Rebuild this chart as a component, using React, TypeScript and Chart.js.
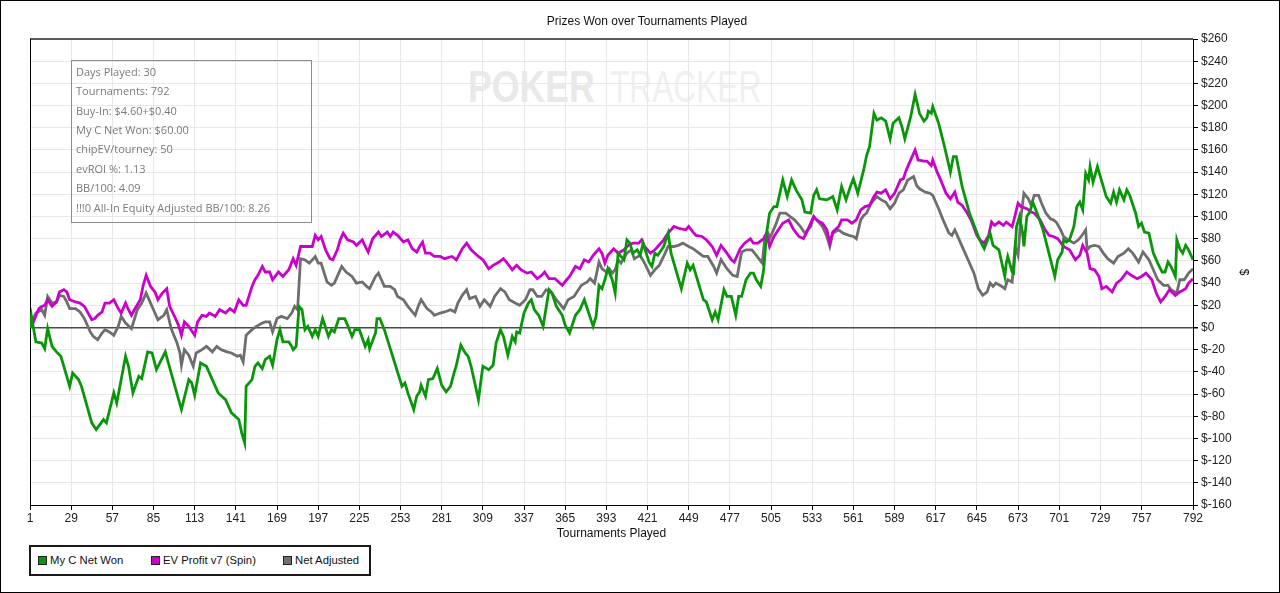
import React, { useEffect, useRef } from 'react';
import { Chart, registerables } from 'chart.js';

Chart.register(...registerables);

// ---------- data ----------
const chartTitle = 'Prizes Won over Tournaments Played';
const xAxisTitle = 'Tournaments Played';
const yAxisTitle = '$';
const xTickValues = [1, 29, 57, 85, 113, 141, 169, 197, 225, 253, 281, 309, 337, 365, 393, 421, 449, 477, 505, 533, 561, 589, 617, 645, 673, 701, 729, 757, 792];
const yMin = -160;
const yMax = 260;
const yStep = 20;

const seriesNames = ['My C Net Won', 'EV Profit v7 (Spin)', 'Net Adjusted'];
const seriesColors = ['#0a960a', '#cc00cc', '#6e6e6e'];

const infoLines = [
  'Days Played: 30',
  'Tournaments: 792',
  'Buy-In: $4.60+$0.40',
  'My C Net Won: $60.00',
  'chipEV/tourney: 50',
  'evROI %: 1.13',
  'BB/100: 4.09',
  '!!!0 All-In Equity Adjusted BB/100: 8.26',
];

// [tournament, $]
const netWon: [number, number][] = [
  [1, 0], [2, 10], [5, -13], [9, -14], [11, -19], [13, -1], [16, -17], [19, -22], [22, -26], [28, -53], [30, -41], [34, -47], [36, -53], [43, -86], [46, -92], [51, -83], [53, -86], [58, -59], [60, -68], [66, -26], [68, -35], [71, -59], [75, -44], [77, -46], [81, -22], [84, -23], [87, -38], [93, -22], [104, -74], [109, -47], [111, -50], [113, -61], [117, -32], [121, -35], [125, -47], [129, -59], [134, -65], [138, -77], [143, -83], [145, -95], [147, -104], [148, -53], [152, -47], [154, -35], [156, -32], [159, -37], [161, -29], [164, -26], [166, -34], [169, -11], [171, -2], [173, -13], [177, -13], [179, -17], [180, -20], [182, -17], [184, 19], [186, 16], [188, -2], [190, 1], [193, -8], [195, -2], [197, -8], [200, 8], [204, -8], [206, -2], [208, -4], [211, 8], [215, 8], [217, 2], [220, -8], [222, -2], [225, -2], [229, -17], [231, -11], [232, -19], [236, -5], [237, 8], [239, 8], [242, -2], [254, -53], [256, -50], [258, -59], [262, -74], [264, -62], [266, -58], [267, -52], [270, -62], [272, -47], [275, -46], [278, -37], [281, -52], [284, -58], [287, -53], [289, -43], [291, -34], [294, -16], [297, -23], [299, -26], [301, -35], [306, -65], [309, -35], [313, -38], [316, -34], [318, -14], [321, -2], [323, -8], [326, -25], [329, -8], [331, -13], [332, -4], [334, -5], [337, 13], [340, 22], [342, 25], [344, 16], [347, 11], [350, 1], [354, 34], [356, 31], [359, 19], [363, 11], [365, 2], [368, -5], [372, 11], [375, 16], [376, 19], [378, 25], [381, 13], [384, 1], [386, 10], [388, 38], [390, 35], [392, 43], [394, 53], [397, 43], [399, 31], [401, 67], [405, 61], [407, 79], [409, 76], [411, 67], [414, 70], [416, 65], [418, 76], [422, 59], [424, 55], [426, 67], [428, 65], [432, 73], [435, 85], [437, 67], [444, 35], [448, 58], [450, 52], [452, 56], [459, 25], [461, 23], [465, 7], [467, 14], [469, 7], [473, 34], [475, 28], [478, 28], [481, 11], [483, 28], [485, 28], [488, 43], [491, 49], [493, 49], [495, 43], [498, 37], [500, 52], [502, 85], [504, 103], [507, 109], [509, 109], [513, 133], [516, 118], [519, 133], [522, 124], [526, 115], [528, 104], [532, 103], [534, 119], [536, 124], [538, 116], [543, 115], [547, 118], [550, 106], [553, 127], [556, 115], [559, 127], [561, 134], [564, 121], [568, 142], [570, 155], [572, 163], [575, 193], [577, 187], [580, 189], [583, 186], [586, 170], [588, 184], [592, 189], [594, 181], [596, 170], [600, 190], [603, 210], [606, 193], [609, 186], [611, 189], [612, 195], [614, 193], [615, 199], [619, 184], [623, 163], [627, 140], [629, 154], [631, 154], [635, 127], [640, 103], [646, 82], [648, 76], [650, 71], [654, 85], [656, 74], [660, 70], [664, 46], [665, 58], [666, 64], [669, 50], [670, 49], [672, 91], [674, 100], [676, 86], [677, 73], [679, 100], [681, 104], [683, 113], [686, 103], [690, 88], [694, 67], [698, 46], [700, 61], [703, 68], [704, 79], [706, 77], [708, 79], [711, 91], [713, 109], [715, 113], [717, 106], [719, 139], [721, 133], [722, 145], [724, 131], [727, 145], [729, 136], [731, 127], [733, 118], [736, 112], [738, 122], [740, 113], [742, 124], [745, 115], [747, 124], [749, 119], [753, 103], [755, 91], [757, 94], [759, 86], [762, 85], [765, 67], [768, 58], [771, 50], [773, 50], [775, 59], [777, 55], [780, 46], [781, 79], [783, 71], [785, 67], [787, 74], [789, 70], [792, 61],
];

const evProfit: [number, number][] = [
  [1, 0], [3, 4], [7, 17], [9, 19], [11, 20], [13, 25], [16, 19], [19, 23], [21, 32], [24, 34], [26, 32], [28, 25], [32, 23], [35, 22], [38, 19], [43, 7], [45, 8], [47, 11], [50, 14], [52, 22], [55, 22], [58, 25], [61, 17], [63, 13], [66, 22], [68, 16], [70, 11], [72, 16], [76, 25], [78, 38], [80, 47], [83, 37], [86, 32], [88, 25], [91, 31], [94, 35], [96, 19], [100, 8], [102, 2], [104, -7], [106, 5], [109, 1], [112, -5], [113, -7], [115, 5], [118, 11], [121, 10], [123, 13], [127, 10], [130, 16], [134, 13], [137, 17], [140, 14], [143, 25], [146, 20], [148, 20], [152, 37], [154, 43], [156, 47], [159, 55], [161, 50], [164, 50], [166, 43], [170, 50], [173, 46], [177, 52], [180, 62], [182, 56], [185, 73], [189, 73], [193, 73], [195, 83], [197, 79], [199, 82], [202, 70], [205, 62], [207, 61], [210, 70], [212, 79], [214, 85], [217, 79], [221, 77], [223, 74], [227, 79], [229, 73], [231, 68], [234, 80], [238, 86], [240, 82], [244, 86], [246, 82], [248, 86], [251, 83], [255, 77], [258, 79], [261, 71], [264, 68], [266, 73], [268, 77], [270, 67], [273, 67], [276, 64], [280, 64], [283, 62], [288, 64], [291, 61], [295, 71], [298, 76], [301, 70], [306, 64], [309, 61], [313, 53], [316, 56], [320, 59], [323, 62], [325, 59], [329, 52], [332, 56], [335, 52], [339, 49], [342, 50], [346, 44], [349, 47], [351, 50], [354, 44], [358, 44], [363, 38], [366, 43], [368, 46], [372, 55], [375, 53], [378, 61], [381, 59], [384, 65], [388, 71], [390, 67], [392, 58], [394, 65], [398, 71], [401, 67], [405, 70], [408, 74], [411, 76], [415, 76], [417, 79], [419, 73], [423, 67], [426, 70], [428, 73], [432, 79], [435, 85], [439, 91], [443, 89], [447, 88], [449, 91], [452, 86], [454, 83], [458, 82], [461, 79], [465, 73], [468, 65], [471, 74], [475, 67], [478, 61], [480, 59], [484, 71], [487, 76], [491, 80], [493, 76], [496, 76], [500, 80], [502, 85], [504, 73], [507, 82], [510, 88], [513, 94], [517, 97], [520, 89], [524, 82], [527, 80], [529, 85], [534, 100], [536, 97], [540, 94], [543, 88], [545, 76], [547, 86], [551, 91], [553, 97], [557, 97], [560, 94], [563, 97], [566, 106], [569, 109], [572, 110], [575, 118], [577, 122], [580, 121], [583, 124], [586, 116], [589, 121], [593, 133], [595, 134], [597, 142], [600, 151], [603, 160], [605, 151], [609, 150], [611, 150], [614, 146], [615, 151], [618, 140], [621, 131], [624, 121], [627, 116], [630, 122], [632, 113], [635, 110], [638, 104], [641, 97], [645, 83], [647, 79], [650, 76], [653, 83], [655, 95], [657, 92], [660, 95], [663, 92], [665, 95], [669, 91], [671, 101], [673, 112], [675, 109], [679, 107], [682, 104], [684, 103], [688, 97], [691, 89], [694, 83], [697, 82], [700, 80], [704, 73], [708, 70], [712, 61], [715, 65], [717, 74], [720, 67], [722, 53], [725, 52], [728, 46], [730, 35], [733, 37], [737, 32], [740, 40], [743, 43], [747, 50], [750, 47], [754, 44], [757, 46], [760, 49], [764, 43], [767, 31], [770, 23], [773, 28], [776, 34], [780, 29], [783, 32], [787, 35], [789, 40], [792, 44],
];

const netAdjusted: [number, number][] = [
  [1, 0], [2, 4], [5, 13], [9, 16], [11, 11], [13, 28], [16, 22], [19, 23], [21, 29], [24, 28], [26, 23], [28, 17], [32, 17], [35, 14], [38, 8], [42, -4], [44, -8], [47, -11], [50, -5], [52, -2], [55, -4], [58, -7], [61, 1], [63, 10], [66, 4], [70, -1], [74, 16], [77, 22], [80, 31], [83, 22], [86, 13], [88, 7], [92, 11], [94, 16], [97, -1], [101, -14], [103, -23], [104, -34], [106, -20], [109, -25], [112, -35], [114, -23], [118, -20], [121, -17], [125, -22], [128, -17], [131, -20], [135, -22], [138, -23], [142, -26], [144, -25], [146, -31], [148, -7], [152, -2], [155, 1], [159, 4], [161, 5], [164, 5], [166, -4], [169, 8], [172, 10], [176, 8], [179, 13], [181, 19], [183, 16], [185, 62], [188, 61], [191, 58], [195, 64], [197, 58], [199, 58], [203, 41], [206, 38], [208, 40], [211, 49], [213, 55], [216, 50], [220, 46], [223, 40], [227, 41], [230, 37], [232, 35], [236, 46], [238, 49], [240, 43], [242, 37], [246, 37], [249, 34], [251, 28], [255, 25], [258, 19], [263, 11], [265, 19], [267, 25], [271, 17], [274, 14], [276, 11], [280, 13], [283, 14], [287, 16], [290, 14], [292, 22], [295, 29], [298, 34], [300, 26], [304, 28], [307, 19], [310, 25], [314, 19], [317, 28], [321, 35], [324, 32], [327, 25], [331, 22], [334, 20], [338, 25], [341, 34], [343, 34], [346, 28], [349, 28], [352, 34], [356, 31], [359, 25], [364, 17], [367, 25], [371, 28], [374, 34], [376, 38], [380, 41], [382, 44], [385, 40], [388, 59], [390, 53], [393, 50], [395, 53], [397, 49], [399, 52], [401, 61], [403, 58], [407, 67], [410, 70], [412, 62], [416, 65], [419, 58], [423, 47], [426, 52], [429, 56], [433, 67], [435, 73], [439, 73], [442, 74], [445, 76], [449, 73], [452, 71], [456, 67], [459, 64], [462, 64], [466, 55], [468, 49], [471, 61], [475, 53], [479, 47], [482, 46], [485, 68], [488, 70], [492, 70], [495, 65], [499, 58], [501, 83], [503, 85], [504, 80], [508, 92], [511, 103], [515, 103], [518, 100], [521, 97], [525, 91], [528, 85], [532, 91], [534, 100], [536, 97], [540, 91], [543, 82], [545, 73], [547, 85], [551, 88], [554, 85], [558, 83], [561, 82], [563, 80], [566, 97], [568, 101], [570, 103], [573, 112], [577, 118], [580, 115], [583, 113], [586, 107], [589, 112], [592, 121], [595, 124], [598, 133], [602, 136], [604, 128], [606, 125], [610, 122], [613, 121], [615, 119], [619, 107], [622, 97], [626, 85], [628, 83], [630, 88], [633, 79], [636, 70], [639, 61], [643, 49], [646, 35], [649, 29], [652, 32], [654, 40], [656, 37], [658, 40], [662, 37], [664, 35], [666, 43], [669, 41], [671, 73], [673, 65], [675, 100], [677, 121], [680, 116], [682, 110], [684, 119], [687, 119], [689, 112], [692, 103], [695, 98], [697, 97], [699, 95], [702, 88], [704, 82], [707, 79], [711, 76], [714, 79], [716, 82], [719, 88], [720, 70], [722, 73], [725, 74], [728, 73], [731, 67], [734, 62], [738, 58], [741, 64], [745, 67], [748, 71], [751, 67], [755, 59], [758, 68], [762, 61], [765, 52], [768, 43], [772, 38], [775, 38], [777, 34], [781, 31], [783, 43], [786, 43], [789, 49], [792, 53],
];

const seriesData = [netWon, evProfit, netAdjusted];

const ARIAL = "'Liberation Sans', Arial, sans-serif";
const SEGOE = "'Open Sans', 'Noto Sans', sans-serif";

const plotFrame = {
  id: 'plotFrame',
  beforeDatasetsDraw(chart: any) {
    const { ctx, chartArea } = chart;
    ctx.save();
    ctx.strokeStyle = '#5a5a5a';
    ctx.lineWidth = 2;
    ctx.beginPath();
    ctx.moveTo(chartArea.left, chartArea.top);
    ctx.lineTo(chartArea.right, chartArea.top);
    ctx.stroke();
    ctx.strokeStyle = '#000';
    ctx.lineWidth = 1;
    ctx.beginPath();
    ctx.moveTo(chartArea.left + 0.5, chartArea.top);
    ctx.lineTo(chartArea.left + 0.5, chartArea.bottom);
    ctx.stroke();
    ctx.restore();
  },
};

export default function App() {
  const canvasRef = useRef<HTMLCanvasElement | null>(null);

  useEffect(() => {
    document.body.style.margin = '0';
    const canvas = canvasRef.current;
    if (!canvas) return;
    const chart = new Chart(canvas, {
      type: 'line',
      data: {
        datasets: seriesData.map((pts, i) => ({
          label: seriesNames[i],
          data: pts.map(([x, y]) => ({ x, y })),
          borderColor: seriesColors[i],
          backgroundColor: seriesColors[i],
          borderWidth: 2.8,
          pointRadius: 0,
          tension: 0,
          fill: false,
        })),
      },
      options: {
        animation: false,
        responsive: false,
        events: [],
        layout: { padding: { left: 30, top: 39, right: 29, bottom: 52 } },
        plugins: {
          legend: { display: false },
          title: { display: false },
          tooltip: { enabled: false },
        },
        scales: {
          x: {
            type: 'linear',
            min: 1,
            max: 792,
            afterBuildTicks: (axis: any) => {
              axis.ticks = xTickValues.map((v) => ({ value: v }));
            },
            afterFit: (axis: any) => {
              axis.height = 36;
            },
            ticks: {
              autoSkip: false,
              maxRotation: 0,
              padding: 1,
              color: '#222',
              font: { family: ARIAL, size: 12 },
              callback: (v: any) => String(v),
            },
            grid: { color: '#e8e8e8', tickColor: '#000', tickLength: 5 },
            border: { color: '#000', width: 1 },
            title: {
              display: true,
              text: xAxisTitle,
              color: '#111',
              padding: 0,
              font: { family: ARIAL, size: 12 },
            },
          },
          y: {
            position: 'right',
            min: yMin,
            max: yMax,
            afterFit: (axis: any) => {
              axis.width = 58;
            },
            ticks: {
              stepSize: yStep,
              padding: 3,
              color: '#222',
              font: { family: ARIAL, size: 12 },
              callback: (v: any) => '$' + v,
            },
            grid: {
              color: (c: any) => (c.tick && c.tick.value === 0 ? '#4a4a4a' : '#e8e8e8'),
              lineWidth: (c: any) => (c.tick && c.tick.value === 0 ? 1.5 : 1),
              tickColor: '#000',
              tickLength: 5,
            },
            border: { color: '#000', width: 1 },
            title: {
              display: true,
              text: yAxisTitle,
              color: '#111',
              padding: 0,
              font: { family: ARIAL, size: 12 },
            },
          },
        },
      } as any,
      plugins: [plotFrame],
    });
    return () => chart.destroy();
  }, []);

  const legendItems = [
    { sq: 38, tx: 50 },
    { sq: 151, tx: 163 },
    { sq: 283, tx: 295 },
  ];

  return (
    <div style={{ position: 'relative', width: 1280, height: 593, background: '#fff', overflow: 'hidden' }}>
      {/* watermark */}
      <div style={{ position: 'absolute', left: 468, top: 65, fontFamily: ARIAL, fontSize: 44, lineHeight: '44px', fontWeight: 700, color: '#e9e9e9', transform: 'scaleX(0.81)', transformOrigin: 'left top', whiteSpace: 'nowrap' }}>POKER</div>
      <div style={{ position: 'absolute', left: 610, top: 65, fontFamily: ARIAL, fontSize: 44, lineHeight: '44px', fontWeight: 400, color: '#f0f0f0', transform: 'scaleX(0.72)', transformOrigin: 'left top', whiteSpace: 'nowrap' }}>TRACKER</div>

      <canvas ref={canvasRef} width={1280} height={593} style={{ position: 'absolute', left: 0, top: 0, width: 1280, height: 593 }} />

      {/* title */}
      <div style={{ position: 'absolute', left: 647, top: 14, transform: 'translateX(-50%)', fontFamily: ARIAL, fontSize: 12, lineHeight: '14px', color: '#111', whiteSpace: 'nowrap' }}>{chartTitle}</div>

      {/* info box */}
      <div style={{ position: 'absolute', left: 71, top: 60, width: 241, height: 163, boxSizing: 'border-box', border: '1px solid #8c8c8c' }} />
      {infoLines.map((t, i) => (
        <div key={i} style={{ position: 'absolute', left: 76, top: 71.7 + 19.4 * i - 8, fontFamily: SEGOE, fontSize: 11, lineHeight: '16px', color: '#7a7a7a', whiteSpace: 'nowrap' }}>{t}</div>
      ))}

      {/* legend */}
      <div style={{ position: 'absolute', left: 29, top: 545, width: 342, height: 31, boxSizing: 'border-box', border: '2px solid #1a1a1a', background: '#fff' }} />
      {legendItems.map((it, i) => (
        <React.Fragment key={i}>
          <div style={{ position: 'absolute', left: it.sq, top: 556, width: 9, height: 9, boxSizing: 'border-box', border: '1px solid #222', background: seriesColors[i] }} />
          <div style={{ position: 'absolute', left: it.tx, top: 553, fontFamily: ARIAL, fontSize: 11.3, lineHeight: '14px', color: '#111', whiteSpace: 'nowrap' }}>{seriesNames[i]}</div>
        </React.Fragment>
      ))}

      {/* outer border */}
      <div style={{ position: 'absolute', left: 0, top: 0, width: 1280, height: 593, boxSizing: 'border-box', border: '1px solid #000', pointerEvents: 'none' }} />
    </div>
  );
}
